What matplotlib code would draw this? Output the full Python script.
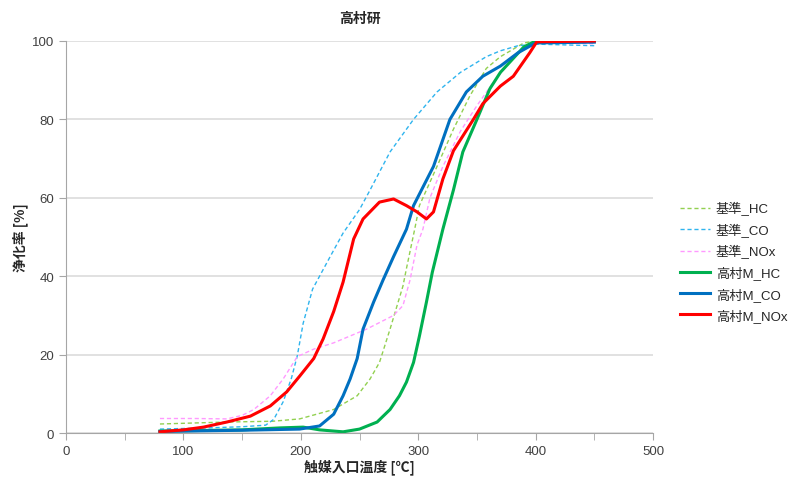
import matplotlib
matplotlib.use('Agg')
import matplotlib.pyplot as plt

plt.rcParams['font.family'] = ['Noto Sans CJK JP', 'DejaVu Sans']

# inlet temperature [C] vs conversion [%]
base_hc_x = [80, 137, 176, 199, 228, 248, 259, 267, 276, 282, 287, 290, 297, 301, 316, 330, 344, 358, 370, 390, 400, 450]
base_hc_y = [2.3, 2.8, 3.0, 3.6, 6.0, 9.5, 13.8, 18, 26.5, 32.5, 37.5, 42, 52, 58, 68, 77.5, 86, 93, 96, 99.5, 100, 100]

base_co_x = [80, 120, 150, 170, 177, 185, 192, 197, 202, 210, 225, 236, 250, 259, 276, 296, 316, 336, 358, 370, 385, 400, 450]
base_co_y = [1.0, 1.3, 1.6, 2.0, 3.5, 8, 14, 19.7, 28, 36.7, 45, 51, 57, 62, 71.7, 80, 87, 92, 96, 97.5, 98.8, 99.2, 98.8]

base_nox_x = [80, 110, 137, 150, 160, 174, 185, 197, 211, 228, 256, 279, 287, 293, 299, 304, 310, 321, 336, 350, 364, 385, 400, 450]
base_nox_y = [3.7, 3.7, 3.6, 4.5, 6.0, 9.5, 13.8, 19.5, 21.4, 23, 26.5, 30, 32.5, 39, 48, 52, 60, 68, 77, 83.5, 89.5, 97, 99.5, 99.3]

tm_hc_x = [80, 150, 182, 202, 216, 236, 250, 265, 276, 284, 290, 296, 301, 307, 312, 321, 330, 338, 350, 361, 370, 390, 400, 450]
tm_hc_y = [0.5, 0.8, 1.3, 1.5, 0.8, 0.3, 1.0, 2.8, 6.0, 9.5, 13, 18, 24.7, 33.4, 41, 52, 62, 71.7, 80, 87.8, 92, 98.5, 100, 100]

tm_co_x = [80, 150, 199, 216, 228, 236, 242, 248, 253, 262, 270, 279, 290, 296, 313, 327, 341, 355, 370, 385, 400, 450]
tm_co_y = [0.4, 0.7, 1.0, 1.8, 4.8, 9.5, 13.8, 19, 26.5, 33.4, 39, 45, 52, 58, 68, 80, 87, 91, 93.6, 97, 99.5, 99.7]

tm_nox_x = [80, 100, 117, 137, 157, 174, 188, 199, 211, 219, 228, 236, 245, 253, 267, 279, 290, 299, 307, 313, 321, 330, 347, 355, 370, 381, 395, 401, 450]
tm_nox_y = [0.3, 0.8, 1.5, 2.8, 4.3, 6.9, 10.5, 14.5, 19, 24, 31, 38.5, 49.5, 54.6, 58.9, 59.7, 58, 56.4, 54.6, 56.4, 64.8, 72, 80, 84, 88.5, 91, 97, 99.8, 100]

fig = plt.figure(figsize=(7.88, 4.81), dpi=100)
ax = fig.add_axes([0.0838, 0.0977, 0.7449, 0.815])

thin = (0, (3, 2))
ax.plot(base_hc_x, base_hc_y, color='#92D050', lw=1.0, ls=thin, label='基準_HC')
ax.plot(base_co_x, base_co_y, color='#2FB4EE', lw=1.0, ls=thin, label='基準_CO')
ax.plot(base_nox_x, base_nox_y, color='#FF99FF', lw=1.0, ls=thin, label='基準_NOx')
ax.plot(tm_hc_x, tm_hc_y, color='#00B050', lw=2.2, label='高村M_HC')
ax.plot(tm_co_x, tm_co_y, color='#0070C0', lw=2.2, label='高村M_CO')
ax.plot(tm_nox_x, tm_nox_y, color='#FF0000', lw=2.2, label='高村M_NOx')

ax.set_xlim(0, 500)
ax.set_ylim(0, 100)
ax.set_xticks(range(0, 501, 100))
ax.set_xticks(range(0, 501, 50), minor=True)
ax.set_yticks(range(0, 101, 20))
ax.grid(axis='y', color='#D9D9D9', lw=1.1)
ax.set_axisbelow(True)
for s in ['top', 'right']:
    ax.spines[s].set_visible(False)
for s in ['left', 'bottom']:
    ax.spines[s].set_color('#A6A6A6')
ax.tick_params(axis='both', which='both', color='#A6A6A6', length=5, labelsize=9.5, labelcolor='#404040')
for lab in ax.get_xticklabels() + ax.get_yticklabels():
    lab.set_family(['Liberation Sans', 'DejaVu Sans'])

ax.set_title('高村研', fontsize=10, fontweight='bold', color='#262626', pad=14)
ax.set_xlabel('触媒入口温度 [℃]', fontsize=10, fontweight='bold', color='#262626', labelpad=1)
ax.set_ylabel('浄化率 [%]', fontsize=10, fontweight='bold', color='#262626', labelpad=3)

leg = fig.legend(loc='center left', bbox_to_anchor=(0.848, 0.454), frameon=False,
                 prop={'family': ['Liberation Sans', 'Noto Sans CJK JP'], 'size': 9.5},
                 handlelength=2.3, labelspacing=0.55, handletextpad=0.4)
for t in leg.get_texts():
    t.set_color('#262626')

fig.savefig('out.png', dpi=100)
